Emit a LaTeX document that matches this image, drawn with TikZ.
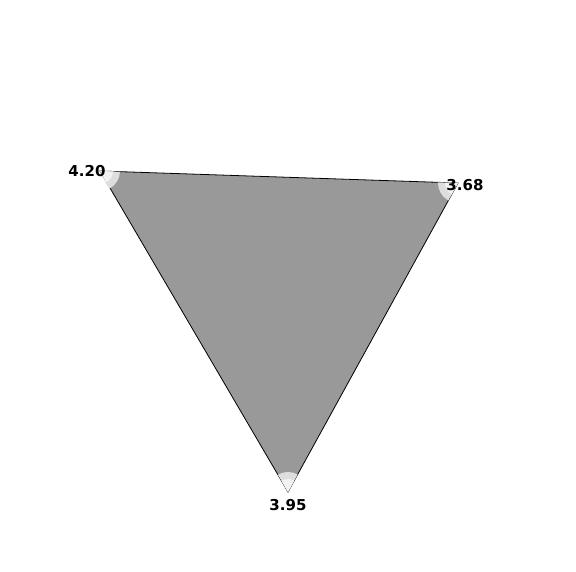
\documentclass[tikz,border=0pt]{standalone}
\usepackage{fontspec}
\setmainfont{DejaVu Sans}
\begin{document}
\begin{tikzpicture}[x=1pt,y=1pt,
  lbl/.style={font=\fontsize{15}{18}\selectfont\bfseries, inner sep=0pt},
  outerw/.style={fill=black!13},
  innerw/.style={fill=black!5}]
\useasboundingbox (0,0) rectangle (576,572);
\fill[white] (0,0) rectangle (576,572);
\coordinate (A) at (100,401);
\coordinate (B) at (458,389);
\coordinate (C) at (288,80);
\filldraw[fill=black!40, draw=black, line width=0.8pt] (A) -- (B) -- (C) -- cycle;
% wedges
\fill[outerw] (A) -- ++(-62:20) arc[start angle=-62, end angle=-1.92, radius=20] -- cycle;
\fill[innerw] (A) -- ++(-62:13) arc[start angle=-62, end angle=-1.92, radius=13] -- cycle;
\fill[outerw] (B) -- ++(178.08:20) arc[start angle=178.08, end angle=241.18, radius=20] -- cycle;
\fill[innerw] (B) -- ++(178.08:13) arc[start angle=178.08, end angle=241.18, radius=13] -- cycle;
\fill[outerw] (C) -- ++(61.18:20) arc[start angle=61.18, end angle=120.35, radius=20] -- cycle;
\fill[innerw] (C) -- ++(61.18:13) arc[start angle=61.18, end angle=120.35, radius=13] -- cycle;
\node[lbl] (la) at (87,401) {4.20};
\node[lbl] (lb) at (465,387) {3.68};
\node[lbl] (lc) at (288,67) {3.95};
\end{tikzpicture}
\end{document}
